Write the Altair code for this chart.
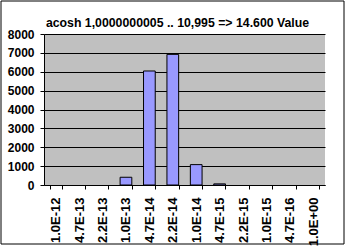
import altair as alt
import pandas as pd

categories = ["1.0E-12", "4.7E-13", "2.2E-13", "1.0E-13", "4.7E-14", "2.2E-14",
              "1.0E-14", "4.7E-15", "2.2E-15", "1.0E-15", "4.7E-16", "1.0E+00"]
values = [0, 0, 0, 410, 6040, 6920, 1080, 60, 0, 0, 0, 0]
y_ticks = [0, 1000, 2000, 3000, 4000, 5000, 6000, 7000, 8000]
title_text = "acosh 1,0000000005 .. 10,995 => 14.600 Value"

df = pd.DataFrame({"cat": categories, "val": values})
FONT = "Liberation Sans"

bars = alt.Chart(df).transform_filter("datum.val > 0").mark_bar(
    fill="#9999FF", stroke="black", strokeWidth=1
).encode(
    x=alt.X("cat:N", title=None,
            scale=alt.Scale(domain=categories, paddingInner=0.5, paddingOuter=0.25),
            axis=alt.Axis(labelAngle=270, labelFont=FONT, labelFontSize=13,
                          labelFontWeight="bold", labelColor="black",
                          domainColor="black", tickColor="black", tickSize=4,
                          tickBand="extent", labelPadding=8, grid=False)),
    y=alt.Y("val:Q", title=None,
            scale=alt.Scale(domain=[0, 8000], nice=False),
            axis=alt.Axis(values=y_ticks, format="d", labelFont=FONT, labelFontSize=12,
                          labelFontWeight="bold", labelColor="black",
                          domainColor="black", tickColor="black", tickSize=4,
                          labelPadding=6, grid=True, gridColor="black",
                          gridOpacity=1, gridWidth=1)),
)

frame = alt.Chart(pd.DataFrame({"a": [0]})).mark_rect(
    fill=None, stroke="black", strokeWidth=1
).encode(
    x=alt.value(-43), x2=alt.value(300), y=alt.value(-33), y2=alt.value(210)
)

title = alt.Chart(pd.DataFrame({"t": [title_text]})).mark_text(
    font=FONT, fontSize=12.3, fontWeight="bold", color="black",
    align="center", baseline="alphabetic"
).encode(
    text="t:N", x=alt.value(133.5), y=alt.value(-7)
)

chart = alt.layer(bars, frame, title).properties(
    width=281, height=151,
    autosize=alt.AutoSizeParams(type="none"),
    padding={"left": 44, "top": 34, "right": 21, "bottom": 62},
    background="white",
).configure_view(fill="#C0C0C0", stroke=None)

chart.save("out.html", embed_options={"renderer": "svg", "actions": False})
